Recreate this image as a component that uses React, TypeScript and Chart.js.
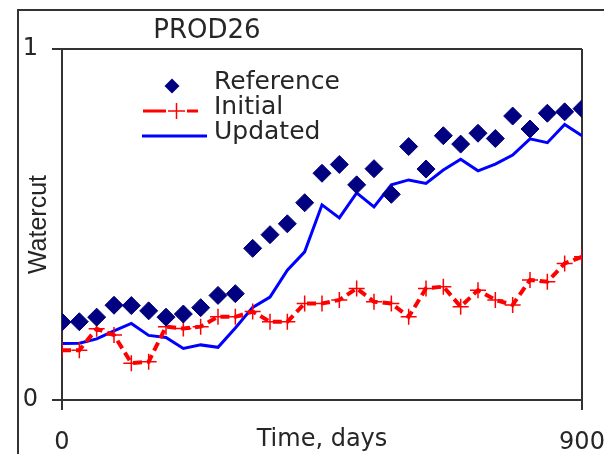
import React, { useEffect, useRef } from 'react';
import { Chart, registerables } from 'chart.js';

Chart.register(...registerables);

// ---- data ----
const DAYS = [0, 30, 60, 90, 120, 150, 180, 210, 240, 270, 300, 330, 360, 390, 420, 450, 480, 510, 540, 570, 600, 630, 660, 690, 720, 750, 780, 810, 840, 870, 900];
const REFERENCE = [0.222, 0.223, 0.236, 0.27, 0.269, 0.254, 0.236, 0.245, 0.263, 0.298, 0.303, 0.432, 0.471, 0.502, 0.562, 0.646, 0.671, 0.613, 0.659, 0.586, 0.722, 0.658, 0.753, 0.729, 0.76, 0.745, 0.809, 0.772, 0.817, 0.821, 0.83];
const INITIAL = [0.142, 0.142, 0.203, 0.185, 0.105, 0.109, 0.209, 0.204, 0.209, 0.237, 0.237, 0.252, 0.223, 0.223, 0.275, 0.275, 0.285, 0.318, 0.28, 0.275, 0.237, 0.318, 0.323, 0.266, 0.313, 0.285, 0.271, 0.342, 0.337, 0.389, 0.408];
const UPDATED = [0.161, 0.162, 0.174, 0.197, 0.218, 0.184, 0.178, 0.147, 0.157, 0.15, 0.205, 0.264, 0.293, 0.37, 0.422, 0.556, 0.519, 0.59, 0.55, 0.613, 0.627, 0.617, 0.655, 0.686, 0.653, 0.672, 0.698, 0.744, 0.733, 0.785, 0.753];
const SERIES_NAMES = ['Reference', 'Initial', 'Updated'];
const X_TICKS = [0, 900];
const Y_TICKS = [0, 1];
const TITLE = 'PROD26';
const X_LABEL = 'Time, days';
const Y_LABEL = 'Watercut';

// ---- styles ----
const HFONT = "'DejaVu Sans', sans-serif";
const VFONT = "'Liberation Sans', Arial, sans-serif";
const TEXT = '#262626';
const AXIS = '#333333';
const NAVY = '#000080';
const RED = '#ff0000';
const BLUE = '#0000ff';

const toPoints = (ys: number[]) => ys.map((y, i) => ({ x: DAYS[i], y }));

const overlayPlugin = {
  id: 'overlayText',
  afterDraw(chart: any) {
    const ctx = chart.ctx as CanvasRenderingContext2D;
    ctx.save();
    ctx.fillStyle = TEXT;
    ctx.textBaseline = 'middle';
    ctx.textAlign = 'center';
    ctx.font = `26px ${HFONT}`;
    ctx.fillText(TITLE, 207, 31);

    const rowY = [86, 111, 136];
    const textX = 214;
    ctx.textAlign = 'left';
    ctx.font = `25px ${HFONT}`;
    chart.data.datasets.forEach((ds: any, i: number) => {
      const y = rowY[i];
      ctx.fillStyle = TEXT;
      ctx.fillText(ds.label, textX, y - 4);
      if (i === 0) {
        ctx.fillStyle = NAVY;
        ctx.beginPath();
        ctx.moveTo(172, y - 7.5);
        ctx.lineTo(179.5, y);
        ctx.lineTo(172, y + 7.5);
        ctx.lineTo(164.5, y);
        ctx.closePath();
        ctx.fill();
      } else if (i === 1) {
        ctx.strokeStyle = RED;
        ctx.lineWidth = 3;
        ctx.beginPath();
        ctx.moveTo(143, y);
        ctx.lineTo(166, y);
        ctx.moveTo(187, y);
        ctx.lineTo(198, y);
        ctx.stroke();
        ctx.lineWidth = 1.5;
        ctx.beginPath();
        ctx.moveTo(168, y);
        ctx.lineTo(185, y);
        ctx.moveTo(176.5, y - 8);
        ctx.lineTo(176.5, y + 8);
        ctx.stroke();
      } else {
        ctx.strokeStyle = BLUE;
        ctx.lineWidth = 3;
        ctx.beginPath();
        ctx.moveTo(142, y);
        ctx.lineTo(207, y);
        ctx.stroke();
      }
    });
    ctx.restore();
  },
};

export default function App() {
  const ref = useRef<HTMLCanvasElement | null>(null);

  useEffect(() => {
    if (!ref.current) return;
    const chart = new Chart(ref.current, {
      type: 'line',
      data: {
        datasets: [
          {
            label: SERIES_NAMES[0],
            data: toPoints(REFERENCE),
            showLine: false,
            pointStyle: 'rectRot',
            pointRadius: 9,
            pointBackgroundColor: NAVY,
            pointBorderColor: NAVY,
            pointBorderWidth: 1,
            borderColor: NAVY,
            backgroundColor: NAVY,
          },
          {
            label: SERIES_NAMES[1],
            data: toPoints(INITIAL),
            borderColor: RED,
            backgroundColor: RED,
            borderWidth: 4,
            borderDash: [9, 5],
            tension: 0,
            pointStyle: 'cross',
            pointRadius: 8,
            pointBorderColor: RED,
            pointBorderWidth: 1.5,
          },
          {
            label: SERIES_NAMES[2],
            data: toPoints(UPDATED),
            borderColor: BLUE,
            backgroundColor: BLUE,
            borderWidth: 3,
            tension: 0,
            pointRadius: 0,
          },
        ],
      },
      options: {
        responsive: false,
        animation: false,
        devicePixelRatio: 1,
        layout: { padding: { left: 0, right: 22, top: 49, bottom: 0 } },
        plugins: {
          legend: { display: false },
          title: { display: false },
          tooltip: { enabled: false },
        },
        scales: {
          x: {
            type: 'linear',
            min: 0,
            max: 900,
            afterBuildTicks: (s: any) => {
              s.ticks = X_TICKS.map((v) => ({ value: v }));
            },
            afterFit: (s: any) => {
              s.height = 54;
              s.paddingLeft = 0;
              s.paddingRight = 0;
            },
            grid: { drawOnChartArea: true, drawTicks: true, tickLength: 10, color: AXIS, lineWidth: 2 },
            border: { display: true, color: AXIS, width: 2 },
            ticks: { font: { family: HFONT, size: 24 }, color: TEXT, padding: 18, maxRotation: 0, autoSkip: false },
            title: { display: true, text: X_LABEL, font: { family: HFONT, size: 24 }, color: TEXT, padding: { top: 0, bottom: 0 } },
          },
          y: {
            type: 'linear',
            min: 0,
            max: 1,
            afterBuildTicks: (s: any) => {
              s.ticks = Y_TICKS.map((v) => ({ value: v }));
            },
            afterFit: (s: any) => {
              s.width = 62;
              s.paddingTop = 0;
              s.paddingBottom = 0;
            },
            grid: { drawOnChartArea: true, drawTicks: true, tickLength: 10, color: AXIS, lineWidth: 2 },
            border: { display: true, color: AXIS, width: 2 },
            ticks: { font: { family: HFONT, size: 24 }, color: TEXT, padding: 14, autoSkip: false },
            title: { display: true, text: Y_LABEL, font: { family: VFONT, size: 25 }, color: TEXT, padding: { top: 24, bottom: 0 } },
          },
        },
      },
      plugins: [overlayPlugin],
    } as any);
    return () => chart.destroy();
  }, []);

  return (
    <div style={{ position: 'fixed', left: 0, top: 0, width: 604, height: 454, background: '#ffffff', overflow: 'hidden' }}>
      <div
        style={{
          position: 'absolute',
          left: 17,
          top: 9,
          width: 700,
          height: 600,
          borderLeft: `2px solid ${AXIS}`,
          borderTop: `2px solid ${AXIS}`,
        }}
      />
      <canvas ref={ref} width={604} height={454} style={{ position: 'absolute', left: 0, top: 0 }} />
    </div>
  );
}
